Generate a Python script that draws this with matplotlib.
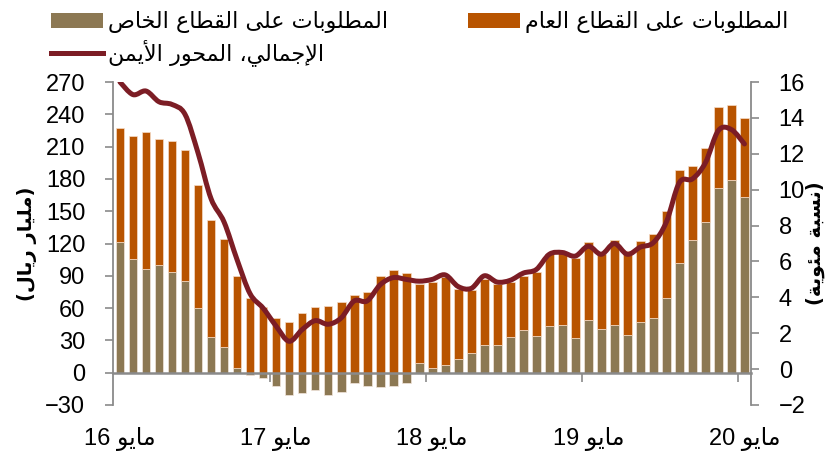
import matplotlib
matplotlib.use("Agg")
import matplotlib.pyplot as plt
from matplotlib.patches import Patch, PathPatch
from matplotlib.lines import Line2D
from matplotlib.path import Path
import numpy as np

# Arabic contextual forms (isolated, final, initial, medial)
FORMS = {
    "ا": ("\uFE8D", "\uFE8E"),
    "أ": ("\uFE83", "\uFE84"),
    "إ": ("\uFE87", "\uFE88"),
    "ب": ("\uFE8F", "\uFE90", "\uFE91", "\uFE92"),
    "ة": ("\uFE93", "\uFE94"),
    "ت": ("\uFE95", "\uFE96", "\uFE97", "\uFE98"),
    "ج": ("\uFE9D", "\uFE9E", "\uFE9F", "\uFEA0"),
    "ح": ("\uFEA1", "\uFEA2", "\uFEA3", "\uFEA4"),
    "خ": ("\uFEA5", "\uFEA6", "\uFEA7", "\uFEA8"),
    "د": ("\uFEA9", "\uFEAA"),
    "ر": ("\uFEAD", "\uFEAE"),
    "س": ("\uFEB1", "\uFEB2", "\uFEB3", "\uFEB4"),
    "ص": ("\uFEB9", "\uFEBA", "\uFEBB", "\uFEBC"),
    "ط": ("\uFEC1", "\uFEC2", "\uFEC3", "\uFEC4"),
    "ع": ("\uFEC9", "\uFECA", "\uFECB", "\uFECC"),
    "ق": ("\uFED5", "\uFED6", "\uFED7", "\uFED8"),
    "ل": ("\uFEDD", "\uFEDE", "\uFEDF", "\uFEE0"),
    "م": ("\uFEE1", "\uFEE2", "\uFEE3", "\uFEE4"),
    "ن": ("\uFEE5", "\uFEE6", "\uFEE7", "\uFEE8"),
    "و": ("\uFEED", "\uFEEE"),
    "ى": ("\uFEEF", "\uFEF0"),
    "ي": ("\uFEF1", "\uFEF2", "\uFEF3", "\uFEF4"),
    "ئ": ("\uFE89", "\uFE8A", "\uFE8B", "\uFE8C"),
}
LAM_ALEF = {"ا": ("\uFEFB", "\uFEFC"), "أ": ("\uFEF7", "\uFEF8"), "إ": ("\uFEF9", "\uFEFA")}


def shape_rtl(text):
    # join letters, then reverse for left-to-right drawing
    out = []
    i = 0
    n = len(text)
    while i < n:
        ch = text[i]
        prev = text[i - 1] if i > 0 else ""
        joins_prev = prev in FORMS and len(FORMS[prev]) == 4
        if ch == "ل" and i + 1 < n and text[i + 1] in LAM_ALEF:
            out.append(LAM_ALEF[text[i + 1]][1 if joins_prev else 0])
            i += 2
            continue
        if ch in FORMS:
            f = FORMS[ch]
            nxt = text[i + 1] if i + 1 < n else ""
            joins_next = len(f) == 4 and nxt in FORMS
            if joins_prev and joins_next:
                out.append(f[3])
            elif joins_prev:
                out.append(f[1])
            elif joins_next:
                out.append(f[2])
            else:
                out.append(f[0])
        else:
            out.append(ch)
        i += 1
    return "".join(out[::-1])


# data, May 2016 .. May 2020 (monthly)
private_claims = [121, 106, 96, 100, 94, 85, 60, 33, 24, 4, -2, -5, -12,
                  -21, -19, -16, -21, -18, -10, -12, -13, -12, -10, 9,
                  4, 7, 13, 18, 26, 26, 33, 40, 34, 43, 44, 32, 49,
                  41, 44, 35, 47, 51, 69, 102, 123, 140, 172, 179, 163]
bar_tops = [227, 220, 224, 217, 215, 207, 174, 142, 124, 90, 69, 61, 51,
            47, 55, 61, 62, 66, 72, 75, 90, 95, 93, 82,
            84, 89, 78, 77, 87, 82, 84, 90, 94, 110, 112, 107, 121,
            110, 123, 113, 122, 129, 150, 188, 192, 209, 247, 249, 237]
total_growth = [16.0, 15.3, 15.5, 14.9, 14.75, 14.2, 12.05, 9.5, 8.2, 6.1, 4.2, 3.4, 2.4,
                1.55, 2.2, 2.7, 2.5, 2.85, 3.8, 3.8, 4.7, 5.1, 5.0, 4.9,
                5.0, 5.25, 4.6, 4.5, 5.2, 4.85, 4.95, 5.35, 5.55, 6.4, 6.5, 6.3, 6.85,
                6.4, 7.0, 6.4, 6.8, 7.05, 8.2, 10.4, 10.6, 11.5, 13.3, 13.35, 12.55]
year_labels = ["16", "17", "18", "19", "20"]

private_claims = np.array(private_claims, dtype=float)
bar_tops = np.array(bar_tops, dtype=float)
base = np.clip(private_claims, 0, None)
public_claims = bar_tops - base
x = np.arange(len(private_claims))

C_PRIV = "#8c7853"
C_PUB = "#b85400"
C_LINE = "#7c1d25"
GRAY = "#8a8a8a"

NUM_FONT = ["Liberation Sans", "DejaVu Sans"]
AR_FONT = ["DejaVu Sans"]

fig = plt.figure(figsize=(8.38, 4.61), dpi=100)
ax = fig.add_axes([0.1348, 0.1215, 0.7613, 0.7005])

ax.bar(x, private_claims, width=0.67, color=C_PRIV, edgecolor="#f2e6dc", linewidth=0.5, zorder=2)
ax.bar(x, public_claims, width=0.67, bottom=base, color=C_PUB, edgecolor="#f5dcc8", linewidth=0.5, zorder=2)

ax.set_xlim(-0.54, 48.5)
ax.set_ylim(-30, 270)
ax.set_yticks(np.arange(-30, 271, 30))
for lab in ax.get_yticklabels():
    lab.set_family(NUM_FONT)
ax.tick_params(axis="y", direction="out", length=6, width=1.2, color=GRAY,
               labelsize=17, pad=14)

ax.spines["top"].set_visible(False)
ax.spines["right"].set_visible(False)
ax.spines["left"].set_color(GRAY)
ax.spines["left"].set_linewidth(1.3)
ax.spines["bottom"].set_position(("data", 0))
ax.spines["bottom"].set_color(GRAY)
ax.spines["bottom"].set_linewidth(1.8)
ax.spines["bottom"].set_zorder(3)

ax.set_xticks([11.5, 23.5, 35.5, 47.5])
ax.set_xticklabels([])
ax.tick_params(axis="x", direction="out", length=6.5, width=1.2, color=GRAY)

sec = ax.secondary_xaxis("bottom")
sec.set_xticks([0, 12, 24, 36, 48])
sec.set_xticklabels([y + " " + shape_rtl("مايو") for y in year_labels],
                    family=NUM_FONT, fontsize=17)
sec.tick_params(length=0, pad=16)
sec.spines["bottom"].set_visible(False)

ax2 = ax.twinx()
# smoothed line (Catmull-Rom segments drawn as cubic Bezier curves)
pts = np.column_stack([x, total_growth]).astype(float)
ext = np.vstack([pts[0], pts, pts[-1]])
verts = [pts[0]]
codes = [Path.MOVETO]
for k in range(len(pts) - 1):
    p0, p1, p2, p3 = ext[k], ext[k + 1], ext[k + 2], ext[k + 3]
    verts += [p1 + (p2 - p0) / 6.0, p2 - (p3 - p1) / 6.0, p2]
    codes += [Path.CURVE4] * 3
ax2.add_patch(PathPatch(Path(verts, codes), facecolor="none", edgecolor=C_LINE,
                        linewidth=3.6, capstyle="round", joinstyle="round", zorder=4))
ax2.set_ylim(-2, 16)
ax2.set_yticks(np.arange(-2, 17, 2))
for lab in ax2.get_yticklabels():
    lab.set_family(NUM_FONT)
ax2.tick_params(axis="y", direction="out", length=6, width=1.2, color=GRAY,
                labelsize=17, pad=14)
for s in ["top", "left", "bottom"]:
    ax2.spines[s].set_visible(False)
ax2.spines["right"].set_color(GRAY)
ax2.spines["right"].set_linewidth(1.3)

ax.set_ylabel("(" + shape_rtl("مليار ريال") + ")", family=AR_FONT,
              fontsize=14, fontweight="bold", rotation=90)
ax.yaxis.set_label_coords(-0.119, 0.5)
ax2.set_ylabel("(" + shape_rtl("نسبة مئوية") + ")", family=AR_FONT,
               fontsize=14, fontweight="bold", rotation=90)
ax2.yaxis.set_label_coords(1.085, 0.5)

handles = [Patch(facecolor=C_PRIV), Line2D([], [], color=C_LINE, linewidth=3.6),
           Patch(facecolor=C_PUB)]
labels = [shape_rtl("المطلوبات على القطاع الخاص"),
          shape_rtl("الإجمالي، المحور الأيمن"),
          shape_rtl("المطلوبات على القطاع العام")]
fig.legend(handles, labels, ncol=2, loc="upper left",
           bbox_to_anchor=(0.05, 0.995), frameon=False,
           prop={"family": AR_FONT, "size": 16},
           handlelength=2.34, handleheight=0.7, handletextpad=0.22,
           columnspacing=3.6, labelspacing=0.28, borderaxespad=0)

plt.savefig("out.png", dpi=100)
